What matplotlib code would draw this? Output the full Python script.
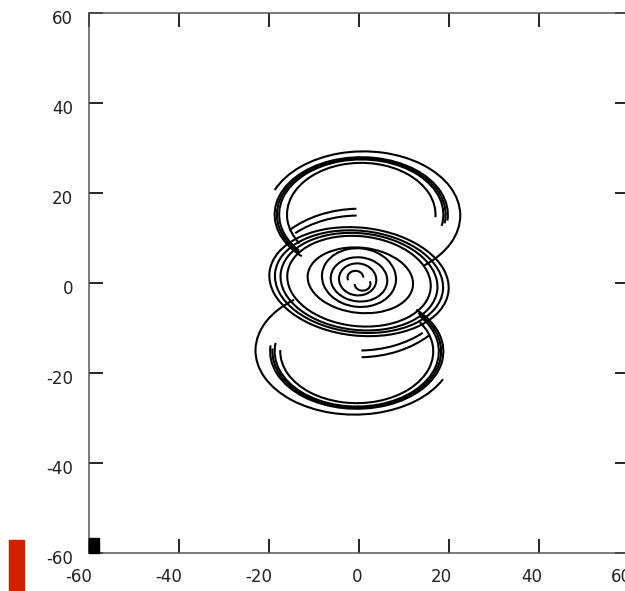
import matplotlib
matplotlib.use("Agg")
from matplotlib import pyplot as plt
from matplotlib.patches import Arc, Rectangle
from matplotlib.transforms import ScaledTranslation

plt.rcParams['axes.unicode_minus'] = False
plt.rcParams['font.family'] = 'DejaVu Sans'

###############################################################################
# Data (data units): each spiral turn is an elliptic arc
#

# upper lobe turns
top_cx = [1.0, 0.5, 0.5, 0.5, 0.5]
top_cy = [15.0, 15.2, 15.2, 15.2, 15.2]
top_w  = [43.0, 38.5, 37.5, 36.5, 33.0]
top_h  = [28.5, 25.5, 25.0, 24.5, 23.0]
top_t1 = [-40, -4, -6, -8, -2]
top_t2 = [164, 215, 212, 210, 205]

# lower lobe turns
bot_cx = [-1.0, -0.5, -0.5, -0.5, -0.5]
bot_cy = [-15.0, -15.2, -15.2, -15.2, -15.2]
bot_w  = [44.0, 38.5, 37.5, 36.5, 34.0]
bot_h  = [28.5, 25.5, 25.0, 24.5, 23.0]
bot_t1 = [140, 176, 178, 174, 179]
bot_t2 = [342, 395, 392, 390, 385]

# central spiral turns
mid_cx = [0.0, 0.0, 0.0, 0.0, 0.3, 0.0, 0.0, -0.3]
mid_cy = [0.3, 0.3, 0.3, 0.4, 0.6, 1.2, 0.8, 0.8]
mid_w  = [40.0, 37.5, 35.0, 32.0, 23.5, 16.5, 12.6, 8.3]
mid_h  = [24.0, 22.6, 21.5, 20.0, 14.5, 13.0, 9.8, 7.1]

# small "S" in the centre
s_cx = [-0.8, 0.8]
s_cy = [1.2, -0.2]
s_t1 = [0, 180]
s_t2 = [200, 380]

# long transit strokes between the lobes
tr_w  = [44.0, 42.0, 44.0, 42.0]
tr_h  = [33.0, 30.0, 33.0, 30.0]
tr_t1 = [92, 92, 272, 272]
tr_t2 = [143, 142, 323, 322]

xticks = [-60, -40, -20, 0, 20, 40, 60]
yticks = [-60, -40, -20, 0, 20, 40, 60]

###############################################################################
# Figure
#

fig = plt.figure(figsize=(6.25, 5.91), dpi=100)
ax = fig.add_axes([89 / 625, 38 / 591, 540 / 625, 540 / 591])
ax.set_xlim(-60, 60)
ax.set_ylim(-60, 60)

lw = 1.5
for cx, cy, w, h, t1, t2 in zip(top_cx, top_cy, top_w, top_h, top_t1, top_t2):
    ax.add_patch(Arc((cx, cy), w, h, angle=0, theta1=t1, theta2=t2, color='black', lw=lw))
for cx, cy, w, h, t1, t2 in zip(bot_cx, bot_cy, bot_w, bot_h, bot_t1, bot_t2):
    ax.add_patch(Arc((cx, cy), w, h, angle=0, theta1=t1, theta2=t2, color='black', lw=lw))
for cx, cy, w, h in zip(mid_cx, mid_cy, mid_w, mid_h):
    ax.add_patch(Arc((cx, cy), w, h, angle=-6, theta1=0, theta2=360, color='black', lw=lw))
for cx, cy, t1, t2 in zip(s_cx, s_cy, s_t1, s_t2):
    ax.add_patch(Arc((cx, cy), 3.5, 3.0, angle=0, theta1=t1, theta2=t2, color='black', lw=lw))
for w, h, t1, t2 in zip(tr_w, tr_h, tr_t1, tr_t2):
    ax.add_patch(Arc((0, 0), w, h, angle=0, theta1=t1, theta2=t2, color='black', lw=lw))

# small black marker in the corner
ax.add_patch(Rectangle((-60, -60), 2.2, 3.3, color='black', clip_on=False, zorder=5))

for s in ax.spines.values():
    s.set_color('#555555')
    s.set_linewidth(1.1)

ax.set_xticks(xticks)
ax.set_yticks(yticks)
ax.tick_params(direction='in', length=10, width=1.2, color='black',
               top=True, right=True, labelsize=12, labelcolor='#222222')
ax.tick_params(axis='x', pad=11)
ax.tick_params(axis='y', pad=11.5)

for lab in ax.get_xticklabels():
    lab.set_horizontalalignment('right')
    lab.set_transform(lab.get_transform() + ScaledTranslation(3 / 100, 0, fig.dpi_scale_trans))
for lab in ax.get_yticklabels():
    lab.set_transform(lab.get_transform() + ScaledTranslation(0, -4 / 100, fig.dpi_scale_trans))

# red block at the lower left of the canvas
fig.patches.append(Rectangle((9 / 625, 0), 15 / 625, 51 / 591, transform=fig.transFigure,
                             color='#d02000', figure=fig))

fig.savefig('out.png', dpi=100)
